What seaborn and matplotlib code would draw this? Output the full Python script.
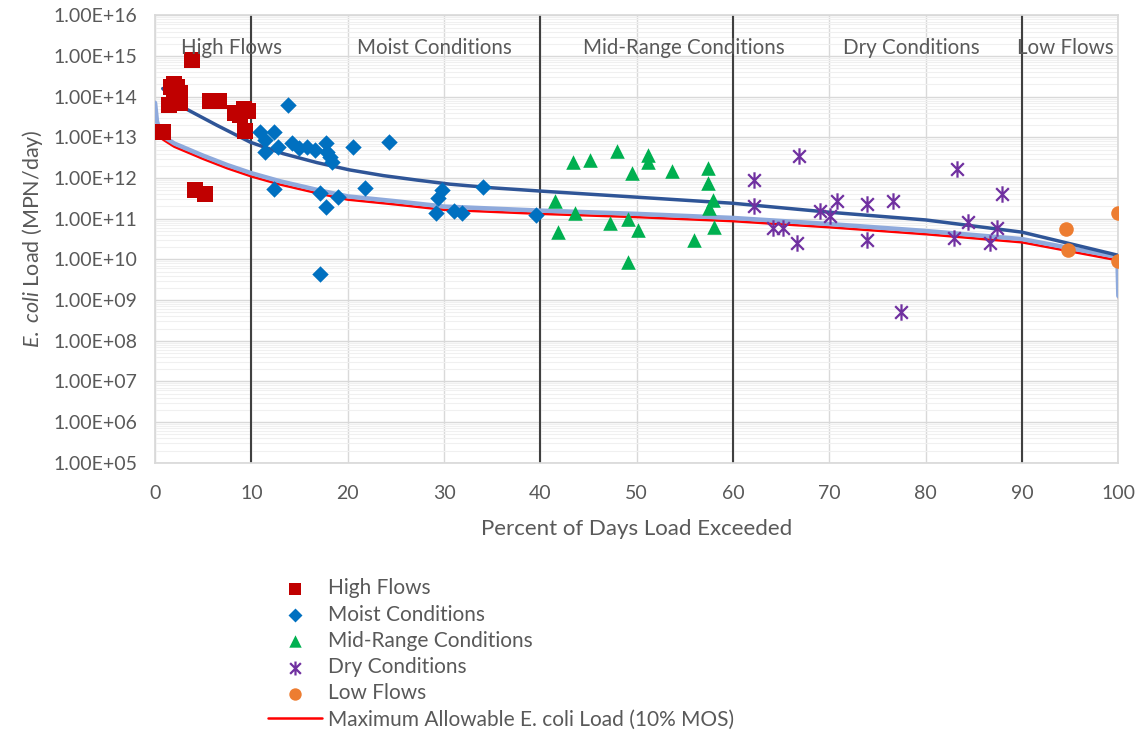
import numpy as np
import pandas as pd
import matplotlib
matplotlib.use("Agg")
import matplotlib.pyplot as plt
from matplotlib.path import Path
from matplotlib.ticker import FixedLocator, FuncFormatter, LogLocator
import seaborn as sns

# ---------------- data (log10 of load) ----------------
high_x = [0.8, 1.4, 1.7, 2.0, 2.3, 2.6, 2.0, 2.6, 3.8, 4.1, 5.2, 5.7, 6.6, 8.3, 8.8, 9.2, 9.3, 9.6]
high_logy = [13.13, 13.8, 14.25, 14.3, 14.25, 14.1, 13.95, 13.85, 14.9, 11.7, 11.6, 13.9, 13.9, 13.6,
             13.55, 13.7, 13.15, 13.65]

moist_x = [13.8, 10.9, 12.3, 11.4, 11.4, 12.8, 14.2, 14.9, 15.8, 16.6, 17.7, 17.9, 18.2, 18.4, 20.5,
           24.3, 12.4, 17.1, 17.7, 19.0, 21.8, 17.1, 29.8, 29.4, 29.2, 31.0, 31.9, 34.0, 39.5]
moist_logy = [13.79, 13.13, 13.13, 12.93, 12.64, 12.77, 12.85, 12.73, 12.77, 12.69, 12.85, 12.64, 12.52,
              12.4, 12.76, 12.88, 11.73, 11.63, 11.29, 11.53, 11.75, 9.64, 11.70, 11.5, 11.14, 11.2,
              11.14, 11.78, 11.09]

mid_x = [43.4, 45.2, 48.0, 51.2, 51.2, 49.5, 53.7, 57.4, 57.4, 57.9, 57.5, 58.0, 41.5, 43.6, 41.8,
         47.2, 49.1, 50.1, 55.9, 49.1]
mid_logy = [12.39, 12.44, 12.66, 12.56, 12.39, 12.12, 12.17, 12.24, 11.88, 11.46, 11.26, 10.8, 11.43,
            11.14, 10.67, 10.89, 10.99, 10.72, 10.48, 9.94]

dry_x = [66.8, 62.2, 62.2, 64.2, 65.2, 66.6, 69.0, 70.1, 70.8, 73.9, 73.9, 76.6, 77.4, 83.2, 87.9,
         84.4, 82.9, 87.4, 86.7]
dry_logy = [12.54, 11.95, 11.31, 10.77, 10.77, 10.40, 11.19, 11.07, 11.43, 11.36, 10.48, 11.43, 8.71,
            12.22, 11.61, 10.92, 10.52, 10.77, 10.40]

low_x = [94.6, 94.8, 100.0, 100.0]
low_logy = [10.75, 10.23, 11.14, 9.96]

# load duration curve (light blue) and allowable load with 10% MOS (red)
ldc_x = [0, 0.2, 0.5, 1, 2, 3, 5, 7.5, 10, 13, 17, 20, 25, 30, 40, 50, 60, 70, 80, 90, 99.9, 100]
ldc_logy = [13.85, 13.4, 13.15, 13.0, 12.85, 12.75, 12.55, 12.32, 12.12, 11.92, 11.7, 11.55, 11.43,
            11.3, 11.2, 11.12, 11.02, 10.87, 10.7, 10.5, 10.06, 9.1]
mos_logy = [13.08, 13.03, 13.0, 12.92, 12.77, 12.67, 12.47, 12.24, 12.04, 11.84, 11.62, 11.47, 11.35,
            11.22, 11.12, 11.04, 10.94, 10.79, 10.62, 10.42, 9.98, 9.05]

# upper trend curve (dark blue)
trend_x = [0.8, 2.9, 6.4, 9.9, 13.3, 16.8, 20.2, 23.7, 27.2, 30.6, 35, 40, 50, 60, 70, 80, 90, 100]
trend_logy = [14.2, 13.74, 13.3, 12.88, 12.6, 12.38, 12.2, 12.06, 11.95, 11.85, 11.76, 11.68, 11.53,
              11.38, 11.16, 10.97, 10.67, 10.1]

regions = ["High Flows", "Moist Conditions", "Mid-Range Conditions", "Dry Conditions", "Low Flows"]
region_label_x = [7.9, 29.0, 54.9, 78.5, 94.5]
region_edges = [10, 40, 60, 90]

MOS_LABEL = 'Maximum Allowable E. coli Load (10% MOS)'

# ---------------- style ----------------
sns.set_theme(style="white")
plt.rcParams['font.family'] = ['Lato', 'DejaVu Sans']
plt.rcParams['mathtext.fontset'] = 'custom'
plt.rcParams['mathtext.rm'] = 'Lato'
plt.rcParams['mathtext.it'] = 'Lato:italic'
TEXT = '#595959'

# Excel-style star marker: an X with a vertical bar
star = Path([(-1, -1), (1, 1), (-1, 1), (1, -1), (0, -1.3), (0, 1.3)],
            [Path.MOVETO, Path.LINETO, Path.MOVETO, Path.LINETO, Path.MOVETO, Path.LINETO])

fig = plt.figure(figsize=(11.4, 7.3), dpi=100)
ax = fig.add_axes([0.136, 0.366, 0.845, 0.613])

# grid
ax.set_yscale('log')
ax.set_xlim(0, 100)
ax.set_ylim(1e5, 1e16)
ax.yaxis.set_major_locator(FixedLocator([10.0 ** k for k in range(5, 17)]))
ax.yaxis.set_minor_locator(LogLocator(base=10, subs=np.arange(2, 10), numticks=100))
ax.xaxis.set_major_locator(FixedLocator(list(range(0, 101, 10))))
ax.grid(True, which='major', color='#D9D9D9', lw=1.0)
ax.grid(True, which='minor', axis='y', color='#F0F0F0', lw=0.8)
ax.set_axisbelow(True)
for s in ax.spines.values():
    s.set_color('#D9D9D9')

for e in region_edges:
    ax.axvline(e, color='#404040', lw=1.5, zorder=1)

# lines
sns.lineplot(x=ldc_x, y=np.power(10.0, mos_logy), color='#FF0000', lw=1.8, sort=False,
             estimator=None, ax=ax, zorder=2, label=MOS_LABEL)
sns.lineplot(x=ldc_x, y=np.power(10.0, ldc_logy), color='#8FAADC', lw=3.2, sort=False,
             estimator=None, ax=ax, zorder=3, legend=False)
sns.lineplot(x=trend_x, y=np.power(10.0, trend_logy), color='#2F5597', lw=2.5, sort=False,
             estimator=None, ax=ax, zorder=4, legend=False)

# points
groups = [
    ("High Flows", high_x, high_logy, '#C00000', 's', 120),
    ("Moist Conditions", moist_x, moist_logy, '#0070C0', 'D', 70),
    ("Mid-Range Conditions", mid_x, mid_logy, '#00B050', '^', 110),
    ("Dry Conditions", dry_x, dry_logy, '#7030A0', star, 140),
    ("Low Flows", low_x, low_logy, '#ED7D31', 'o', 110),
]
for name, xs, ly, col, mk, sz in groups:
    df = pd.DataFrame({'x': xs, 'load': np.power(10.0, ly)})
    if mk is star:
        sns.scatterplot(data=df, x='x', y='load', marker=mk, s=sz, color=col, edgecolor=col,
                        linewidth=1.6, ax=ax, zorder=5, label=name)
    else:
        sns.scatterplot(data=df, x='x', y='load', marker=mk, s=sz, color=col, linewidth=0,
                        ax=ax, zorder=5, label=name)

for name, lx in zip(regions, region_label_x):
    ax.text(lx, 10 ** 15.2, name, ha='center', va='center', fontsize=14.8, color=TEXT, zorder=6)

# axes text
ax.yaxis.set_major_formatter(FuncFormatter(lambda v, p: f"{v:.2E}"))
ax.tick_params(axis='both', which='both', length=0, labelsize=14, colors=TEXT)
ax.tick_params(axis='y', pad=13)
ax.tick_params(axis='x', pad=16)
ax.set_xlabel('Percent of Days Load Exceeded', fontsize=16, color=TEXT, labelpad=12)
ax.set_ylabel(r'$\it{E.\ coli}$ Load (MPN/day)', fontsize=15.5, color=TEXT, labelpad=6)

# legend: markers first, then the line
handles, labels = ax.get_legend_handles_labels()
ax.get_legend().remove()
order = [labels.index(g[0]) for g in groups] + [labels.index(MOS_LABEL)]
leg = fig.legend([handles[i] for i in order], [labels[i] for i in order],
                 loc='upper left', bbox_to_anchor=(0.228, 0.219), frameon=False,
                 fontsize=15, handlelength=2.6, handletextpad=0.25, labelspacing=0.3,
                 borderaxespad=0, markerscale=0.85)
for t in leg.get_texts():
    t.set_color(TEXT)

fig.savefig('out.png', dpi=100, facecolor='white')
